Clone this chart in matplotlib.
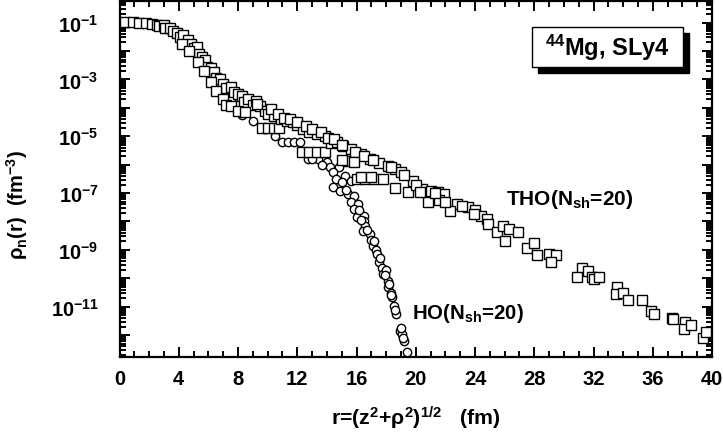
import numpy as np
import matplotlib
matplotlib.use('Agg')
import matplotlib.pyplot as plt
from matplotlib.ticker import FixedLocator, LogLocator, MultipleLocator, FuncFormatter, NullFormatter
from matplotlib.patches import Rectangle

#шрифты
plt.rcParams['font.family'] = ['Liberation Sans', 'DejaVu Sans']
plt.rcParams['font.weight'] = 'bold'
plt.rcParams['mathtext.fontset'] = 'custom'
plt.rcParams['mathtext.rm'] = 'Liberation Sans:bold'
plt.rcParams['mathtext.it'] = 'Liberation Sans:bold'
plt.rcParams['mathtext.bf'] = 'Liberation Sans:bold'
plt.rcParams['mathtext.sf'] = 'Liberation Sans:bold'
plt.rcParams['mathtext.default'] = 'bf'

#данные: r (fm), log10 rho_n (fm^-3)

tho_r = [0.4, 0.9, 1.3, 1.8, 2.2, 2.5, 2.7, 3.0, 3.1, 3.4, 3.6, 3.9, 4.1, 4.3, 4.6, 4.8,
         5.0, 5.2, 5.4, 5.6, 5.8, 5.9, 6.2, 6.4, 6.5, 6.8, 7.0, 7.2, 7.5, 7.7, 8.0, 8.3,
         8.4, 8.7, 9.0, 9.2, 9.5, 9.8, 10.0, 10.4,
         4.2, 4.7, 5.3, 5.7, 6.2, 6.5, 7.0, 7.2, 7.5, 8.0, 8.5,
         9.6, 10.0, 10.4, 10.8, 10.9, 11.3, 11.7, 12.0, 12.4, 12.8, 13.3, 13.9,
         12.3, 12.8, 13.3, 13.9, 14.3, 14.7, 15.1, 15.6, 16.3, 16.9, 15.4,
         16.0, 16.6, 17.2, 17.8, 17.5, 18.1, 18.6, 19.0, 19.8, 18.6, 19.5,
         20.4, 21.0, 21.5, 21.9, 20.8, 21.6, 22.8, 23.5, 22.3, 24.0, 24.4, 24.8,
         24.9, 25.5, 25.9, 26.3, 26.0, 26.9, 27.5, 28.0, 28.2, 29.0, 29.5, 29.1,
         31.2, 31.6, 30.9, 31.9, 32.0, 32.4, 33.6, 33.5, 34.0, 34.3, 35.3, 35.9,
         36.1, 37.3, 37.4, 38.2, 38.1, 38.6, 39.4, 39.6,
         9.3, 10.2, 10.7, 11.1, 11.5, 12.0, 12.6, 13.0, 13.6, 14.1, 14.5, 15.0,
         15.9, 16.5, 17.1, 15.0, 15.8, 16.3, 17.0, 18.3, 19.2, 20.0, 20.3, 21.3,
         22.0, 23.1, 23.9]
tho_lg = [-0.98, -0.99, -1.0, -1.02, -1.04, -1.07, -1.12, -1.08, -1.2, -1.18, -1.3, -1.35,
          -1.5, -1.42, -1.6, -1.75, -1.9, -1.85, -2.1, -2.2, -2.3, -2.55, -2.6, -2.75,
          -2.95, -3.0, -3.15, -3.3, -3.25, -3.45, -3.5, -3.6, -3.8, -3.7, -3.9, -3.75,
          -3.95, -4.1, -4.2, -4.3,
          -1.75, -2.0, -2.4, -2.7, -3.1, -3.4, -3.7, -3.9, -3.95, -4.1, -4.15,
          -4.7, -4.72, -4.72, -4.72, -4.4, -4.45, -4.5, -4.6, -4.75, -4.85, -4.93, -5.0,
          -5.55, -5.55, -5.55, -5.55, -5.25, -5.2, -5.35, -5.46, -5.63, -5.8, -5.87,
          -6.5, -6.5, -6.5, -6.5, -5.95, -6.05, -6.15, -6.27, -6.58, -6.83, -6.98,
          -6.85, -6.94, -6.95, -7.05, -7.3, -7.25, -7.4, -7.5, -7.64, -7.6, -7.8, -7.9,
          -8.1, -8.38, -8.16, -8.28, -8.69, -8.38, -8.92, -8.74, -9.19, -9.15, -9.19, -9.44,
          -9.62, -9.73, -9.94, -9.94, -10.04, -9.97, -10.32, -10.56, -10.53, -10.77, -10.77, -11.16,
          -11.27, -11.41, -11.42, -11.55, -11.8, -11.66, -12.11, -11.9,
          -3.85, -4.05, -4.2, -4.35, -4.4, -4.5, -4.65, -4.75, -4.85, -5.05, -5.1, -5.3,
          -5.55, -5.7, -5.85, -5.85, -5.9, -6.45, -6.45, -6.1, -6.35, -6.7, -6.95, -7.0,
          -7.3, -7.45, -7.75]

ho_r = [0.5, 1.5, 2.5, 3.5, 4.5, 5.5, 6.5, 7.5, 8.3, 9.0, 9.8, 10.5,
        11.0, 11.4, 11.8, 12.2, 12.7, 13.4, 14.0, 14.2, 14.8, 14.4, 15.2, 15.6,
        14.4, 14.9, 15.4, 15.8, 15.6, 16.1, 15.8, 16.0, 16.5, 16.5, 16.6, 16.45,
        16.9, 17.0, 17.1, 17.3, 17.4, 17.5, 17.75, 17.8, 18.0, 18.1, 18.15, 18.3,
        18.4, 18.5, 18.7, 18.95, 19.1, 19.2, 19.4,
        13.0, 13.7, 14.6, 15.0, 15.3, 16.2, 16.3, 16.7, 17.2, 17.6, 17.9, 18.2,
        18.35, 18.6, 19.0, 19.15]
ho_lg = [-1.0, -1.02, -1.1, -1.3, -1.65, -2.3, -3.1, -3.7, -4.24, -4.45, -4.75, -5.0,
         -5.2, -5.2, -5.2, -5.2, -5.81, -5.8, -5.92, -6.1, -6.1, -6.27, -6.4, -6.58,
         -6.8, -6.94, -7.05, -7.12, -7.3, -7.4, -7.57, -7.85, -7.82, -8.0, -8.17, -8.35,
         -8.45, -8.65, -8.87, -9.0, -9.15, -9.44, -9.62, -9.86, -9.7, -10.1, -10.32, -10.5,
         -10.67, -10.99, -11.27, -11.87, -11.97, -12.22, -12.6,
         -5.8, -6.0, -6.5, -6.6, -6.9, -7.6, -7.95, -8.3, -8.7, -9.3, -9.9, -10.2,
         -10.6, -11.1, -11.75, -12.1]

tho_rho = 10.0 ** np.array(tho_lg)
ho_rho = 10.0 ** np.array(ho_lg)

#график
fig = plt.figure(figsize=(7.23, 4.35), dpi=100)
ax = fig.add_axes([119.5/723, 77/435, (712-119.5)/723, (358-2)/435])

ax.plot(ho_r, ho_rho, 'o', ms=6.0, mfc='white', mec='black', mew=1.0, zorder=3)
ax.plot(tho_r, tho_rho, 's', ms=6.8, mfc='white', mec='black', mew=1.0, zorder=4)

ax.set_yscale('log')
ax.set_xlim(0, 40)
ax.set_ylim(10**-12.77, 10**-0.24)

ax.xaxis.set_major_locator(MultipleLocator(4))
ax.xaxis.set_minor_locator(MultipleLocator(1))
ax.yaxis.set_major_locator(FixedLocator([10.0**k for k in range(-13, 1)]))
ax.yaxis.set_minor_locator(LogLocator(base=10, subs=np.arange(2, 10), numticks=50))
ax.yaxis.set_minor_formatter(NullFormatter())

def ylab(v, pos):
    k = int(round(np.log10(v)))
    if k % 2 == 0:
        return ''
    return r'$10^{%d}$' % k
ax.yaxis.set_major_formatter(FuncFormatter(ylab))

ax.tick_params(which='both', direction='in', top=True, right=True, width=1.4, labelsize=14.5)
ax.tick_params(which='major', length=7.5)
ax.tick_params(which='minor', length=4.3)
ax.tick_params(axis='x', pad=9)
ax.tick_params(axis='y', pad=15)
for s in ax.spines.values():
    s.set_linewidth(1.6)

fig.text(416/723, 17/435, r'r=(z$^2$+$\rho^2$)$^{1/2}$   (fm)', ha='center', va='center', fontsize=15.3)
fig.text(17/723, 1 - 205/435, r'$\rho_n$(r)  (fm$^{-3}$)', ha='center', va='center', rotation=90, fontsize=14.5)

ax.text(30.4, 10**-7.18, r'THO(N$_{sh}$=20)', ha='center', va='center', fontsize=15)
ax.text(23.5, 10**-11.2, r'HO(N$_{sh}$=20)', ha='center', va='center', fontsize=14.7)

#рамка
bx, by, bw, bh = 532/723, 1 - 68/435, 151/723, 40/435
fig.patches.append(Rectangle((bx + 6/723, by - 6/435), bw, bh, transform=fig.transFigure,
                             facecolor='black', edgecolor='black', zorder=5))
fig.patches.append(Rectangle((bx, by), bw, bh, transform=fig.transFigure,
                             facecolor='white', edgecolor='black', lw=1.0, zorder=6))
fig.text(bx + bw/2, by + bh/2, r'$^{44}$Mg, SLy4', ha='center', va='center', fontsize=17, zorder=7)

fig.savefig('out.png', dpi=100)
